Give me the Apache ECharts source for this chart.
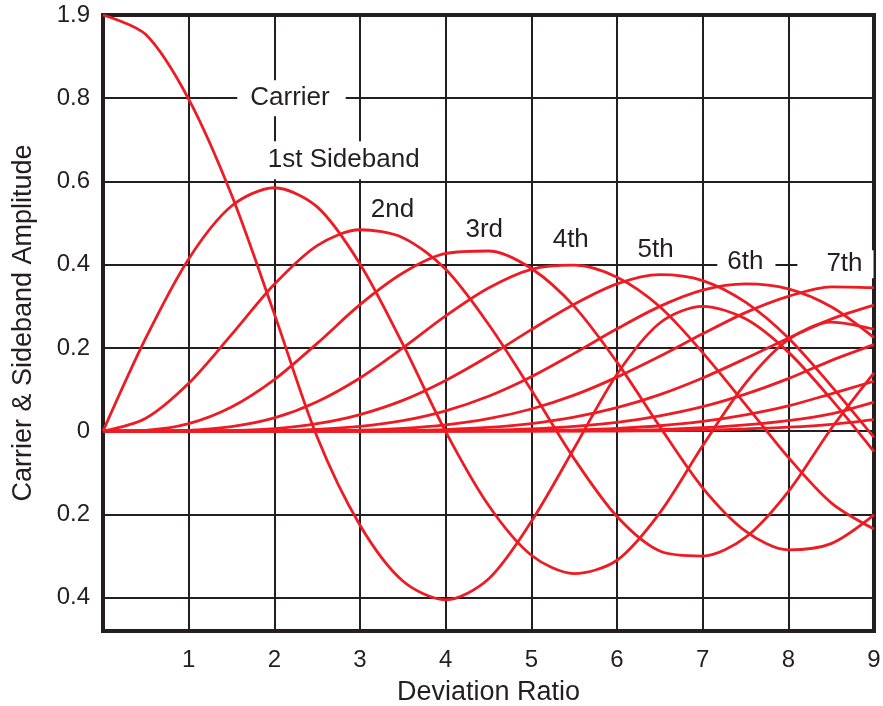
<!DOCTYPE html>
<html>
<head>
<meta charset="utf-8">
<script src="https://cdn.jsdelivr.net/npm/echarts@6/dist/echarts.min.js"></script>
<style>
  html, body { margin: 0; padding: 0; background: #fff; }
  #main { width: 883px; height: 706px; }
</style>
</head>
<body>
<div id="main"></div>
<script>
const FONT = '"Liberation Sans", Arial, Helvetica, sans-serif';
const INK = '#231f20';
const RED = '#ed1c24';

// deviation ratio samples
const xValues = [0, 0.5, 1, 1.5, 2, 2.5, 3, 3.5, 4, 4.5, 5, 5.5, 6, 6.5, 7, 7.5, 8, 8.5, 9];

// amplitudes
const carrier = [1.0, 0.953, 0.798, 0.568, 0.282, -0.014, -0.226, -0.36, -0.405, -0.355, -0.217, -0.041, 0.137, 0.26, 0.30, 0.27, 0.19, 0.077, -0.049];
const side1 = [0, 0.224, 0.414, 0.541, 0.585, 0.539, 0.402, 0.209, -0.001, -0.178, -0.298, -0.342, -0.31, -0.196, -0.035, 0.115, 0.22, 0.262, 0.245];
const side2 = [0, 0.031, 0.115, 0.232, 0.353, 0.446, 0.484, 0.465, 0.389, 0.257, 0.099, -0.066, -0.205, -0.288, -0.3, -0.255, -0.145, 0.006, 0.14];
const side3 = [0, 0.002, 0.018, 0.058, 0.124, 0.211, 0.304, 0.38, 0.427, 0.433, 0.391, 0.30, 0.166, 0.011, -0.136, -0.24, -0.285, -0.27, -0.201];
const side4 = [0, 0, 0.002, 0.011, 0.032, 0.071, 0.128, 0.20, 0.277, 0.344, 0.389, 0.399, 0.37, 0.299, 0.189, 0.064, -0.063, -0.172, -0.235];
const side5 = [0, 0, 0, 0.0015, 0.006, 0.018, 0.04, 0.074, 0.122, 0.18, 0.244, 0.305, 0.354, 0.376, 0.362, 0.31, 0.224, 0.109, -0.015];
const side6 = [0, 0, 0, 0.0002, 0.0012, 0.0042, 0.0114, 0.0254, 0.049, 0.084, 0.131, 0.187, 0.246, 0.30, 0.339, 0.354, 0.342, 0.299, 0.225];
const side7 = [0, 0, 0, 0, 0.0002, 0.0008, 0.0025, 0.0068, 0.0152, 0.030, 0.0534, 0.0866, 0.13, 0.18, 0.234, 0.285, 0.324, 0.347, 0.345];
const side8 = [0, 0, 0, 0, 0, 0.0001, 0.0005, 0.0015, 0.004, 0.0091, 0.0184, 0.0337, 0.0565, 0.088, 0.128, 0.1745, 0.2235, 0.2694, 0.303];
const side9 = [0, 0, 0, 0, 0, 0, 0.0001, 0.0003, 0.0009, 0.0023, 0.0055, 0.0114, 0.0212, 0.0369, 0.0589, 0.0891, 0.1263, 0.1697, 0.208];
const side10 = [0, 0, 0, 0, 0, 0, 0, 0, 0.0002, 0.0006, 0.0015, 0.0034, 0.007, 0.0131, 0.0235, 0.0393, 0.0608, 0.0899, 0.12];
const side11 = [0, 0, 0, 0, 0, 0, 0, 0, 0, 0.0001, 0.0004, 0.0009, 0.002, 0.004, 0.0083, 0.0152, 0.0256, 0.0418, 0.07];
const side12 = [0, 0, 0, 0, 0, 0, 0, 0, 0, 0, 0.0001, 0.0002, 0.0005, 0.0011, 0.0027, 0.0053, 0.0096, 0.0165, 0.028];

// y ticks and the labels printed beside them
const yTickValues = [-0.4, -0.2, 0, 0.2, 0.4, 0.6, 0.8, 1.0];
const yTickLabels = ['0.4', '0.2', '0', '0.2', '0.4', '0.6', '0.8', '1.9'];
const xTickLabels = ['', '1', '2', '3', '4', '5', '6', '7', '8', '9'];

// curve labels, placed in data coordinates
const curveLabels = ['Carrier', '1st Sideband', '2nd', '3rd', '4th', '5th', '6th', '7th'];
const curveLabelPos = [[2.20, 0.80], [2.81, 0.651], [3.38, 0.531], [4.45, 0.485], [5.46, 0.461], [6.45, 0.437], [7.51, 0.408], [8.55, 0.401]];

const curves = [carrier, side1, side2, side3, side4, side5, side6, side7, side8, side9, side10, side11, side12];

const chart = echarts.init(document.getElementById('main'));

const series = curves.map((vals, i) => ({
  name: i === 0 ? 'Carrier' : 'J' + i,
  type: 'line',
  data: xValues.map((x, k) => [x, vals[k]]),
  smooth: 0.3,
  showSymbol: false,
  clip: false,
  z: 3,
  lineStyle: { color: RED, width: 2.8 },
  silent: true
}));

// horizontal grid lines
series.push({
  type: 'line',
  data: [],
  z: 1,
  markLine: {
    silent: true,
    z: 1,
    symbol: 'none',
    label: { show: false },
    lineStyle: { color: INK, width: 2, type: 'solid' },
    data: yTickValues.filter(v => v > -0.45 && v < 0.95).map(v => ({ yAxis: v }))
  }
});

const option = {
  animation: false,
  backgroundColor: '#fff',
  grid: {
    left: 103,
    right: 9,
    top: 15,
    bottom: 75,
    containLabel: false,
    outerBoundsMode: 'none',
    show: true,
    borderColor: INK,
    borderWidth: 4,
    backgroundColor: 'transparent'
  },
  xAxis: {
    type: 'value',
    min: 0,
    max: 9,
    interval: 1,
    name: 'Deviation Ratio',
    nameLocation: 'middle',
    nameGap: 48,
    nameTextStyle: { fontFamily: FONT, fontSize: 27, color: INK },
    axisLine: { show: false },
    axisTick: { show: false },
    axisLabel: {
      margin: 17,
      fontFamily: FONT,
      fontSize: 24,
      color: INK,
      formatter: v => xTickLabels[Math.round(v)] || ''
    },
    splitLine: { show: true, lineStyle: { color: INK, width: 2 } }
  },
  yAxis: {
    type: 'value',
    min: -0.48,
    max: 1.0,
    interval: 0.04,
    name: 'Carrier & Sideband Amplitude',
    nameLocation: 'middle',
    nameGap: 66,
    nameTextStyle: { fontFamily: FONT, fontSize: 27, color: INK },
    axisLine: { show: false },
    axisTick: { show: false },
    splitLine: { show: false },
    axisLabel: {
      margin: 13,
      fontFamily: FONT,
      fontSize: 24,
      color: INK,
      formatter: v => {
        const i = yTickValues.findIndex(t => Math.abs(t - v) < 1e-6);
        return i >= 0 ? yTickLabels[i] : '';
      }
    }
  },
  series: series
};

chart.setOption(option);

const boxPadding = {
  'Carrier': [5, 16, 5, 13],
  '1st Sideband': [6, 8, 6, 8],
  '6th': [1, 12, 1, 10],
  '7th': [1, 11, 1, 29]
};

const graphics = curveLabels.map((t, i) => {
  const p = chart.convertToPixel({ xAxisIndex: 0, yAxisIndex: 0 }, curveLabelPos[i]);
  const pad = boxPadding[t];
  return {
    type: 'text',
    z: 2,
    silent: true,
    style: {
      x: p[0],
      y: p[1],
      text: t,
      font: '26px ' + FONT,
      fill: INK,
      align: 'center',
      verticalAlign: 'middle',
      backgroundColor: pad ? '#fff' : 'transparent',
      padding: pad || 0
    }
  };
});

chart.setOption({ graphic: { elements: graphics } });
</script>
</body>
</html>
